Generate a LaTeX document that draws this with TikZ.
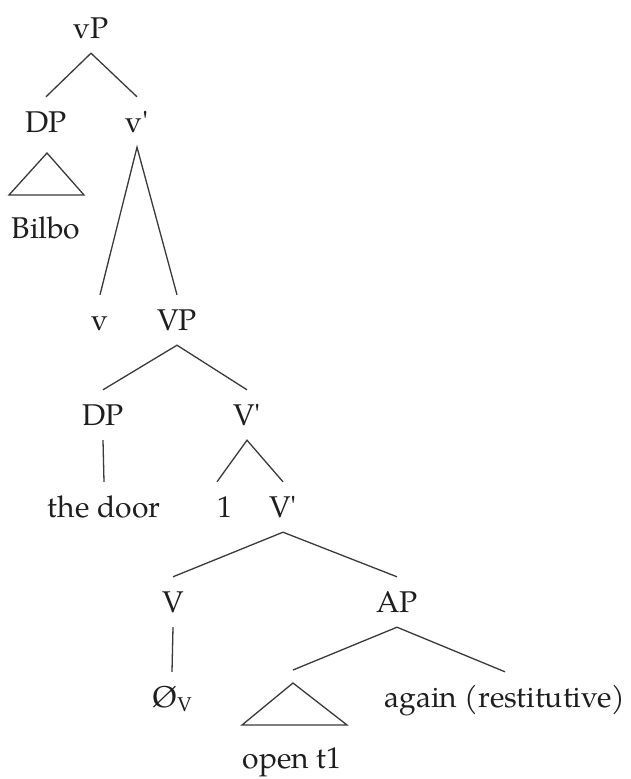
\documentclass[tikz,border=0pt]{standalone}
\usepackage{fontspec}
\setmainfont{TeX Gyre Pagella}
\usetikzlibrary{calc}
\definecolor{branch}{HTML}{3A3A3A}
\definecolor{ink}{HTML}{1E1E1E}
% straight (unmapped) apostrophe for bar-level primes
\newcommand{\barmark}{{\addfontfeatures{Ligatures=TeXOff}'}}
\tikzset{
  lbl/.style={anchor=base, text=ink, font=\fontsize{30}{35}\selectfont,
    text height=24pt, text depth=4pt, inner xsep=0pt, inner ysep=11pt},
  edge/.style={draw=branch, line width=1.3pt},
}
\begin{document}
\begin{tikzpicture}[x=1pt, y=-1pt]
  \useasboundingbox[fill=white] (0,0) rectangle (630,779);

  % labels (placed on their baselines)
  \node[lbl] (vP)    at (91,38)   {vP};
  \node[lbl] (DPa)   at (46,132)  {DP};
  \node[lbl] (vbar)  at (137,132) {v\barmark};
  \node[lbl] (bilbo) at (46,238)  {Bilbo};
  \node[lbl] (v)     at (100,330) {v};
  \node[lbl] (VP)    at (177,330) {VP};
  \node[lbl] (DPb)   at (103,425) {DP};
  \node[lbl] (Vbara) at (247,425) {V\barmark};
  \node[lbl] (door)  at (104,517) {the door};
  \node[lbl] (one)   at (225,517) {1};
  \node[lbl] (Vbarb) at (283,517) {V\barmark};
  \node[lbl] (V)     at (173,612) {V};
  \node[lbl] (AP)    at (397,612) {AP};
  \node[lbl] (null)  at (172,707) {Ø\raisebox{-0.3ex}{\fontsize{20}{20}\selectfont V}};
  \node[lbl] (again) at (505,707) {again (restitutive)};
  \node[lbl] (open)  at (292,768) {open t1};

  % roof corners
  \coordinate (ra) at (47,153);
  \coordinate (rl) at (9,195);
  \coordinate (rr) at (84,195);
  \coordinate (sa) at (293,683);
  \coordinate (sl) at (242,725);
  \coordinate (sr) at (347,725);
  \coordinate (stop) at (293,670);

  % branches
  \draw[edge] (DPa.north) -- (vP.south) -- (vbar.north);
  \draw[edge] (v.north) -- (vbar.south) -- (VP.north);
  \draw[edge] (DPb.north) -- (VP.south) -- (Vbara.north);
  \draw[edge] (DPb.south) -- (door.north);
  \draw[edge] ($(one.north)+(-8,0)$) -- (Vbara.south) -- (Vbarb.north);
  \draw[edge] (V.north) -- (Vbarb.south) -- (AP.north);
  \draw[edge] (V.south) -- (null.north);
  \draw[edge] (stop) -- (AP.south) -- (again.north);

  % roofs
  \draw[edge, line join=miter] (ra) -- (rl) -- (rr) -- cycle;
  \draw[edge, line join=miter] (sa) -- (sl) -- (sr) -- cycle;
\end{tikzpicture}
\end{document}
